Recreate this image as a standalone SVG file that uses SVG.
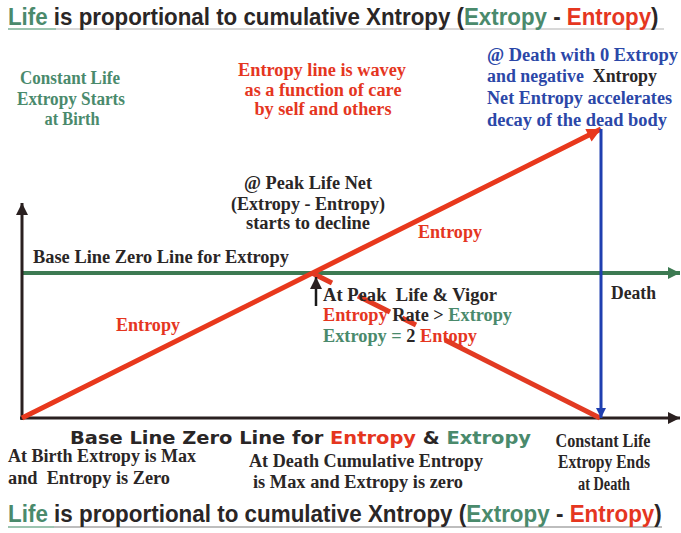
<svg xmlns="http://www.w3.org/2000/svg" width="681" height="533" viewBox="0 0 681 533">
<defs>
<style>
.t{font-family:"Liberation Serif","Times New Roman",serif;font-weight:bold;font-size:18.5px}
.h{font-family:"Liberation Sans",Arial,sans-serif;font-weight:bold;font-size:24px}
.blk{font-family:"DejaVu Sans","Liberation Sans",sans-serif;font-weight:bold;font-size:17px}
.g{fill:#4a8a6c}.r{fill:#e5361f}.b{fill:#2b47a8}.k{fill:#2a2626}
.c{text-anchor:middle}
.p{white-space:pre}
</style>
<marker id="ak" viewBox="0 0 10 10" refX="10" refY="5" markerWidth="14" markerHeight="12" markerUnits="userSpaceOnUse" orient="auto"><path d="M0,0L10,5L0,10z" fill="#2a2020"/></marker>
<marker id="ag" viewBox="0 0 10 10" refX="10" refY="5" markerWidth="14" markerHeight="12" markerUnits="userSpaceOnUse" orient="auto"><path d="M0,0L10,5L0,10z" fill="#3d7a52"/></marker>
<marker id="ar" viewBox="0 0 10 10" refX="10" refY="5" markerWidth="18" markerHeight="14" markerUnits="userSpaceOnUse" orient="auto"><path d="M0,0L10,5L0,10z" fill="#e8381c"/></marker>
<marker id="ab" viewBox="0 0 10 10" refX="10" refY="5" markerWidth="14" markerHeight="10" markerUnits="userSpaceOnUse" orient="auto"><path d="M0,0L10,5L0,10z" fill="#1f3fb0"/></marker>
</defs>
<rect width="681" height="533" fill="#fff"/>

<g id="title-top">
<line x1="8" y1="29" x2="664" y2="29" stroke="#d8d8d8" stroke-width="2"/>
<line x1="8" y1="29" x2="56" y2="29" stroke="#9cc4b0" stroke-width="2"/>
<text class="h" transform="translate(8,25) scale(0.93,1)"><tspan class="g">Life</tspan><tspan class="k"> is proportional to cumulative Xntropy (</tspan><tspan class="g">Extropy</tspan><tspan class="k"> - </tspan><tspan class="r">Entropy</tspan><tspan class="k">)</tspan></text>
</g>

<g id="connectors">
<line x1="22" y1="273" x2="680" y2="273" stroke="#3d7a52" stroke-width="4" marker-end="url(#ag)"/>
<line x1="22" y1="420" x2="22" y2="203" stroke="#2a2020" stroke-width="3" marker-end="url(#ak)"/>
<line x1="20" y1="418" x2="680" y2="418" stroke="#2a2020" stroke-width="3" marker-end="url(#ak)"/>
<line x1="22" y1="418" x2="601" y2="129" stroke="#e8381c" stroke-width="5" marker-end="url(#ar)"/>
<g stroke="#e23a22" stroke-width="5">
<line x1="312" y1="273" x2="332" y2="283"/>
<line x1="358" y1="296" x2="390" y2="312"/>
<line x1="402" y1="318" x2="416" y2="325"/>
<line x1="445" y1="340" x2="600" y2="418"/>
</g>
<line x1="601" y1="129" x2="601" y2="418" stroke="#1f3fb0" stroke-width="3" marker-end="url(#ab)"/>
<line x1="316" y1="306" x2="316" y2="277" stroke="#1a1a1a" stroke-width="2.5" marker-end="url(#ak)"/>
</g>

<g id="birth-note">
<text class="t g c" x="70" y="84" textLength="100" lengthAdjust="spacingAndGlyphs">Constant Life</text>
<text class="t g c" x="71" y="105" textLength="108" lengthAdjust="spacingAndGlyphs">Extropy Starts</text>
<text class="t g c" x="72" y="125" textLength="55" lengthAdjust="spacingAndGlyphs">at Birth</text>
</g>

<g id="wavey-note">
<text class="t r c" x="322" y="76" textLength="168" lengthAdjust="spacingAndGlyphs">Entropy line is wavey</text>
<text class="t r c" x="323" y="96" textLength="157" lengthAdjust="spacingAndGlyphs">as a function of care</text>
<text class="t r c" x="323" y="115" textLength="137" lengthAdjust="spacingAndGlyphs">by self and others</text>
</g>

<g id="death-note">
<text class="t b" x="487" y="61" textLength="191" lengthAdjust="spacingAndGlyphs">@ Death with 0 Extropy</text>
<text class="t b p" x="487" y="82" textLength="170" lengthAdjust="spacingAndGlyphs">and negative  <tspan class="k">Xntropy</tspan></text>
<text class="t b" x="487" y="104" textLength="185" lengthAdjust="spacingAndGlyphs">Net Entropy accelerates</text>
<text class="t b" x="487" y="126" textLength="180" lengthAdjust="spacingAndGlyphs">decay of the dead body</text>
</g>

<g id="peak-note">
<text class="t k c" x="308" y="189" textLength="128" lengthAdjust="spacingAndGlyphs">@ Peak Life Net</text>
<text class="t k c" x="308" y="210" textLength="154" lengthAdjust="spacingAndGlyphs">(Extropy - Entropy)</text>
<text class="t k c" x="308" y="229" textLength="124" lengthAdjust="spacingAndGlyphs">starts to decline</text>
</g>

<g id="entropy-upper">
<text class="t r" x="418" y="238" textLength="64" lengthAdjust="spacingAndGlyphs">Entropy</text>
</g>

<g id="extropy-baseline">
<text class="t k" x="33" y="263" textLength="256" lengthAdjust="spacingAndGlyphs">Base Line Zero Line for Extropy</text>
</g>

<g id="entropy-lower">
<text class="t r" x="116" y="331" textLength="64" lengthAdjust="spacingAndGlyphs">Entropy</text>
</g>

<g id="death-label">
<text class="t k" x="611" y="299" textLength="45" lengthAdjust="spacingAndGlyphs">Death</text>
</g>

<g id="vigor-note">
<text class="t k p" x="323" y="301" textLength="174" lengthAdjust="spacingAndGlyphs">At Peak  Life &amp; Vigor</text>
<text class="t" x="323" y="321" textLength="189" lengthAdjust="spacingAndGlyphs"><tspan class="r">Entropy</tspan><tspan class="k"> Rate &gt; </tspan><tspan class="g">Extropy</tspan></text>
<text class="t" x="323" y="342" textLength="154" lengthAdjust="spacingAndGlyphs"><tspan class="g">Extropy = </tspan><tspan class="k">2 </tspan><tspan class="r">Entopy</tspan></text>
</g>

<g id="entropy-baseline">
<text class="blk" x="70" y="444" textLength="461" lengthAdjust="spacingAndGlyphs"><tspan class="k">Base Line Zero Line for </tspan><tspan class="r">Entropy</tspan><tspan class="k"> &amp; </tspan><tspan class="g">Extropy</tspan></text>
</g>

<g id="birth-max">
<text class="t k" x="8" y="462" textLength="188" lengthAdjust="spacingAndGlyphs">At Birth Extropy is Max</text>
<text class="t k p" x="8" y="484" textLength="162" lengthAdjust="spacingAndGlyphs">and  Entropy is Zero</text>
</g>

<g id="death-max">
<text class="t k" x="249" y="467" textLength="234" lengthAdjust="spacingAndGlyphs">At Death Cumulative Entropy</text>
<text class="t k" x="253" y="488" textLength="210" lengthAdjust="spacingAndGlyphs">is Max and Extropy is zero</text>
</g>

<g id="death-end">
<text class="t k c" x="603" y="447" textLength="95" lengthAdjust="spacingAndGlyphs">Constant Life</text>
<text class="t k c" x="604" y="468" textLength="92" lengthAdjust="spacingAndGlyphs">Extropy Ends</text>
<text class="t k c" x="604" y="490" textLength="52" lengthAdjust="spacingAndGlyphs">at Death</text>
</g>

<g id="title-bottom">
<line x1="8" y1="527" x2="662" y2="527" stroke="#bdbdbd" stroke-width="2"/>
<line x1="8" y1="527" x2="54" y2="527" stroke="#9cc4b0" stroke-width="2"/>
<text class="h" transform="translate(8,522) scale(0.934,1)"><tspan class="g">Life</tspan><tspan class="k"> is proportional to cumulative Xntropy (</tspan><tspan class="g">Extropy</tspan><tspan class="k"> - </tspan><tspan class="r">Entropy</tspan><tspan class="k">)</tspan></text>
</g>
</svg>
